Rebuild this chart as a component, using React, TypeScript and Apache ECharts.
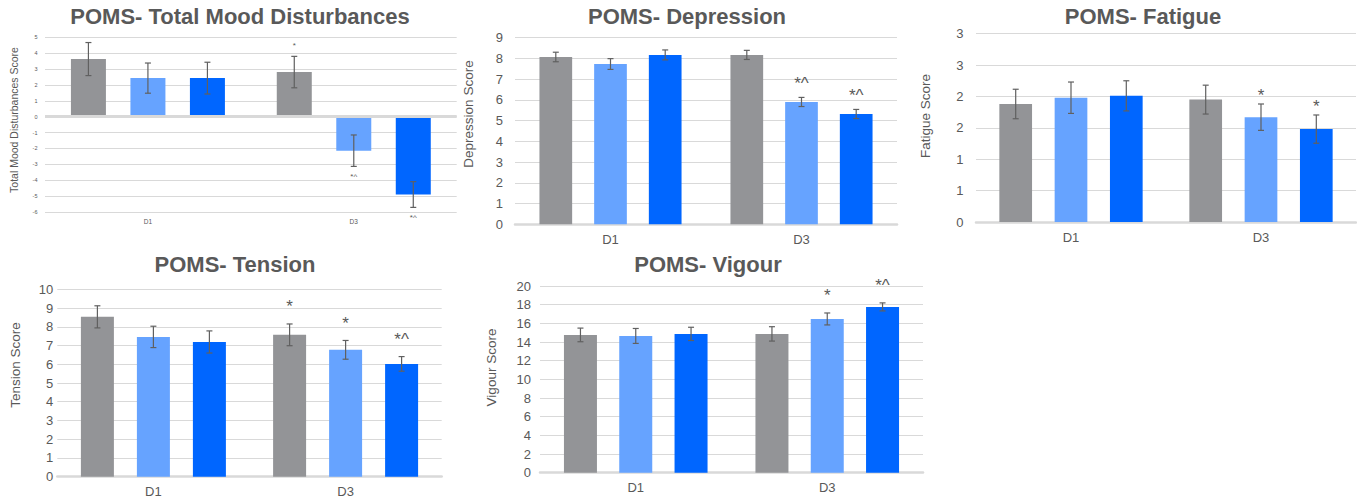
import React, { useEffect, useRef } from "react";
import * as echarts from "echarts";

// ---------- data ----------
const categories = ["D1", "D3"];
const groupNames = ["Group 1", "Group 2", "Group 3"];
const colors = ["#939497", "#66a3ff", "#0066ff"];

// Total Mood Disturbances (per group, per day)
const tmdMeans = [[3.63, 2.81], [2.43, -2.14], [2.43, -4.9]];
const tmdErrs = [[1.04, 0.99], [0.95, 0.99], [1.0, 0.81]];
const tmdMarks = [["", "*"], ["", "*^"], ["", "*^"]];

// Depression
const depMeans = [[8.07, 8.17], [7.73, 5.9], [8.17, 5.32]];
const depErrs = [[0.23, 0.22], [0.26, 0.22], [0.24, 0.22]];
const depMarks = [["", ""], ["", "*^"], ["", "*^"]];

// Fatigue
const fatMeans = [[1.88, 1.95], [1.98, 1.67], [2.01, 1.48]];
const fatErrs = [[0.235, 0.23], [0.25, 0.21], [0.24, 0.225]];
const fatMarks = [["", ""], ["", "*"], ["", "*"]];

// Tension
const tenMeans = [[8.53, 7.57], [7.46, 6.77], [7.19, 6.02]];
const tenErrs = [[0.59, 0.58], [0.57, 0.5], [0.59, 0.39]];
const tenMarks = [["", "*"], ["", "*"], ["", "*^"]];

// Vigour
const vigMeans = [[14.76, 14.87], [14.65, 16.47], [14.87, 17.76]];
const vigErrs = [[0.73, 0.77], [0.8, 0.64], [0.71, 0.43]];
const vigMarks = [["", ""], ["", "*"], ["", "*^"]];

// ---------- layout ----------
const FONT = '"Liberation Sans", Arial, Helvetica, sans-serif';
const TXT = "#595959";
const GRIDC = "#d9d9d9";

type Panel = {
  title: string; yName: string;
  means: number[][]; errs: number[][]; marks: string[][];
  min: number; max: number; interval: number; roundLabels?: boolean;
  grid: { left: number; top: number; width: number; height: number };
  barWidth: number; gap: number;
  tickFont: number; tickMargin: number; catFont: number; catMargin: number;
  nameFont: number; namePos: [number, number];
  markFont: number; markGapAbove: number; markGapBelow: number;
  titlePos: [number, number];
  zeroLine?: boolean;
};

const panels: Panel[] = [
  {
    title: "POMS- Total Mood Disturbances", yName: "Total Mood Disturbances Score",
    means: tmdMeans, errs: tmdErrs, marks: tmdMarks,
    min: -6, max: 5, interval: 1,
    grid: { left: 45, top: 37.3, width: 411.7, height: 174.7 },
    barWidth: 35, gap: 24.5,
    tickFont: 5.5, tickMargin: 7.5, catFont: 6.5, catMargin: 6,
    nameFont: 10.5, namePos: [14, 120],
    markFont: 8, markGapAbove: 13, markGapBelow: 8.5,
    titlePos: [240, 5], zeroLine: true,
  },
  {
    title: "POMS- Depression", yName: "Depression Score",
    means: depMeans, errs: depErrs, marks: depMarks,
    min: 0, max: 9, interval: 1,
    grid: { left: 515, top: 37.7, width: 382, height: 186.6 },
    barWidth: 32.7, gap: 22,
    tickFont: 13, tickMargin: 12, catFont: 13, catMargin: 9,
    nameFont: 13.5, namePos: [468, 114],
    markFont: 17, markGapAbove: 18, markGapBelow: 10,
    titlePos: [687, 5],
  },
  {
    title: "POMS- Fatigue", yName: "Fatigue Score",
    means: fatMeans, errs: fatErrs, marks: fatMarks,
    min: 0, max: 3, interval: 0.5, roundLabels: true,
    grid: { left: 976, top: 33.7, width: 380, height: 188.3 },
    barWidth: 32.7, gap: 22.6,
    tickFont: 13, tickMargin: 12.5, catFont: 13, catMargin: 9,
    nameFont: 13.5, namePos: [925, 116],
    markFont: 17, markGapAbove: 12, markGapBelow: 10,
    titlePos: [1143, 5],
  },
  {
    title: "POMS- Tension", yName: "Tension Score",
    means: tenMeans, errs: tenErrs, marks: tenMarks,
    min: 0, max: 10, interval: 1,
    grid: { left: 57.3, top: 289.3, width: 384.4, height: 187.4 },
    barWidth: 33, gap: 23,
    tickFont: 13, tickMargin: 4, catFont: 13, catMargin: 8,
    nameFont: 13.5, namePos: [15, 365],
    markFont: 17, markGapAbove: 21, markGapBelow: 10,
    titlePos: [235, 253],
  },
  {
    title: "POMS- Vigour", yName: "Vigour Score",
    means: vigMeans, errs: vigErrs, marks: vigMarks,
    min: 0, max: 20, interval: 2,
    grid: { left: 540, top: 286, width: 383, height: 186.7 },
    barWidth: 33, gap: 22.3,
    tickFont: 13, tickMargin: 9, catFont: 13, catMargin: 8,
    nameFont: 13.5, namePos: [491.7, 367.5],
    markFont: 17, markGapAbove: 21, markGapBelow: 10,
    titlePos: [708, 253],
  },
];

function buildOption() {
  const grid: any[] = [];
  const xAxis: any[] = [];
  const yAxis: any[] = [];
  const series: any[] = [];
  const title: any[] = [];
  const graphic: any[] = [];

  panels.forEach((p, pi) => {
    grid.push({ ...p.grid, containLabel: false });
    title.push({
      text: p.title, left: p.titlePos[0], top: p.titlePos[1], textAlign: "center", padding: 0,
      textStyle: { fontSize: 22, fontWeight: "bold", color: TXT, fontFamily: FONT },
    });
    xAxis.push({
      type: "category", gridIndex: pi, data: categories,
      axisLine: p.zeroLine ? { show: false } : { show: true, onZero: false, lineStyle: { color: GRIDC, width: 2.5 } },
      axisTick: { show: false },
      axisLabel: { color: TXT, fontSize: p.catFont, fontFamily: FONT, margin: p.catMargin },
      splitLine: { show: false },
    });
    yAxis.push({
      type: "value", gridIndex: pi, min: p.min, max: p.max, interval: p.interval,
      axisLine: { show: false }, axisTick: { show: false },
      axisLabel: {
        color: TXT, fontSize: p.tickFont, fontFamily: FONT, margin: p.tickMargin,
        formatter: p.roundLabels ? (v: number) => String(Math.round(v)) : (v: number) => String(v),
      },
      splitLine: { show: true, lineStyle: { color: GRIDC, width: 1 } },
    });
    graphic.push({
      type: "text", x: p.namePos[0], y: p.namePos[1], rotation: Math.PI / 2,
      style: { text: p.yName, fill: TXT, fontSize: p.nameFont, fontFamily: FONT, align: "center", verticalAlign: "middle" },
    });

    groupNames.forEach((g, s) => {
      const bar: any = {
        type: "bar", name: g, xAxisIndex: pi, yAxisIndex: pi,
        data: p.means[s], barWidth: p.barWidth, barGap: (p.gap / p.barWidth) * 100 + "%",
        itemStyle: { color: colors[s] }, silent: true,
      };
      if (p.zeroLine && s === 0) {
        bar.markLine = {
          silent: true, symbol: "none", label: { show: false },
          lineStyle: { color: GRIDC, width: 3, type: "solid" },
          data: [{ yAxis: 0 }],
        };
      }
      series.push(bar);
    });
    groupNames.forEach((g, s) => {
      series.push({
        type: "custom", name: g + " error", xAxisIndex: pi, yAxisIndex: pi, z: 5, silent: true,
        data: p.means[s].map((m, i) => [i, m, p.errs[s][i]]),
        renderItem: (params: any, api: any) => {
          const i = api.value(0), m = api.value(1), e = api.value(2);
          const cx = api.coord([i, m])[0] + (s - 1) * (p.barWidth + p.gap);
          const yTop = api.coord([i, m + e])[1];
          const yBot = api.coord([i, m - e])[1];
          const st = { stroke: "#606060", lineWidth: 1.2 };
          const children: any[] = [
            { type: "line", shape: { x1: cx, y1: yTop, x2: cx, y2: yBot }, style: st },
            { type: "line", shape: { x1: cx - 3, y1: yTop, x2: cx + 3, y2: yTop }, style: st },
            { type: "line", shape: { x1: cx - 3, y1: yBot, x2: cx + 3, y2: yBot }, style: st },
          ];
          const mark = p.marks[s][params.dataIndex];
          if (mark) {
            const gy = m < 0 ? yBot + p.markGapBelow : yTop - p.markGapAbove;
            children.push({
              type: "text", x: cx, y: gy + 0.23 * p.markFont,
              style: { text: mark, fill: TXT, fontSize: p.markFont, fontFamily: FONT, align: "center", verticalAlign: "middle" },
            });
          }
          return { type: "group", children };
        },
      });
    });
  });

  return { animation: false, backgroundColor: "#ffffff", title, grid, xAxis, yAxis, series, graphic };
}

export default function App() {
  const ref = useRef<HTMLDivElement>(null);
  useEffect(() => {
    if (!ref.current) return;
    const chart = echarts.init(ref.current, undefined, { renderer: "svg" });
    chart.setOption(buildOption() as any);
    return () => chart.dispose();
  }, []);
  return (
    <div
      ref={ref}
      style={{ position: "absolute", left: 0, top: 0, width: 1357, height: 500, background: "#fff" }}
    />
  );
}
